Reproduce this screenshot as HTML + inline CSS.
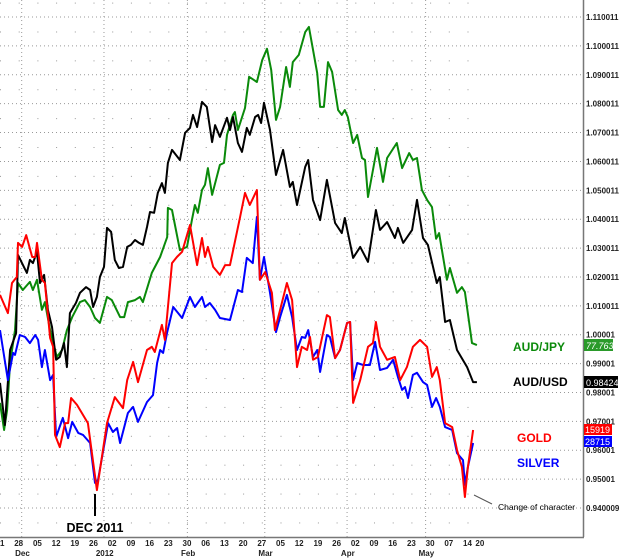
<!DOCTYPE html>
<html><head><meta charset="utf-8"><style>
html,body{margin:0;padding:0;background:#fff;}
svg{display:block;font-family:"Liberation Sans",Arial,sans-serif;}
</style></head><body>
<svg id="chart" width="620" height="558" viewBox="0 0 620 558" xmlns="http://www.w3.org/2000/svg">
<rect x="0" y="0" width="620" height="558" fill="#fff"/>
<g id="grid"></g>
<g id="series"></g>
<line x1="583.5" y1="0" x2="583.5" y2="537" stroke="#777" stroke-width="1.5"/>
<line x1="0" y1="537.5" x2="584" y2="537.5" stroke="#777" stroke-width="1.5"/>
<g id="yaxis"></g>
<g id="xaxis"></g>
<g>
<line x1="95" y1="494" x2="95" y2="516" stroke="#000" stroke-width="2"/>
<text x="95" y="532" font-size="12.5" font-weight="bold" text-anchor="middle" fill="#000">DEC 2011</text>
<line x1="474" y1="495" x2="492" y2="504" stroke="#555" stroke-width="1"/>
<text x="498" y="510" font-size="8.5" fill="#000">Change of character</text>
<text x="513" y="351" font-size="12" font-weight="bold" fill="#0a8a0a">AUD/JPY</text>
<text x="513" y="386" font-size="12" font-weight="bold" fill="#000">AUD/USD</text>
<text x="517" y="442" font-size="12" font-weight="bold" fill="#f00">GOLD</text>
<text x="517" y="467" font-size="12" font-weight="bold" fill="#00f">SILVER</text>
<rect x="584" y="339" width="29" height="12" fill="#2a9a2a"/>
<text x="586" y="349" font-size="9" font-style="italic" fill="#fff">77.763</text>
<rect x="584" y="376" width="34" height="12" fill="#000"/>
<text x="586" y="386" font-size="9" fill="#fff">0.98424</text>
<rect x="584" y="424" width="28" height="11" fill="#f00"/>
<text x="585" y="433" font-size="9" fill="#fff">15919</text>
<rect x="584" y="436" width="28" height="11" fill="#00f"/>
<text x="585" y="445" font-size="9" fill="#fff">28715</text>
</g>
</svg>
<script>
const audJpy = [[0,0.9764],[1.1,0.9670],[1.9,0.9739],[2.7,0.9902],[4.0,1.0016],[4.8,1.0179],[6.1,1.0155],[8.0,1.0183],[8.8,1.0155],[9.9,1.0190],[11.2,1.0086],[12.0,1.0113],[13.4,1.0016],[15.2,0.9923],[16.6,0.9947],[17.9,1.0016],[19.3,1.0061],[21.4,1.0113],[22.7,1.0120],[24.1,1.0096],[25.4,1.0058],[26.7,1.0041],[28.6,1.0131],[29.9,1.0120],[32.1,1.0061],[33.2,1.0061],[34.2,1.0113],[36.1,1.0120],[37.4,1.0131],[38.2,1.0113],[40.6,1.0214],[42.8,1.0269],[44.7,1.0338],[44.9,1.0439],[46.0,1.0432],[48.1,1.0293],[50.0,1.0304],[51.3,1.0397],[52.1,1.0449],[52.9,1.0422],[54.0,1.0501],[54.8,1.0519],[55.6,1.0577],[56.7,1.0484],[58.8,1.0588],[59.9,1.0595],[60.7,1.0692],[62.3,1.0761],[62.8,1.0771],[63.6,1.0709],[65.5,1.0785],[66.6,1.0893],[68.7,1.0875],[70.1,1.0951],[71.4,1.0990],[72.5,1.0917],[73.8,1.0744],[74.9,1.0789],[76.5,1.0927],[77.5,1.0858],[78.3,1.0944],[79.9,1.0969],[81.6,1.1048],[82.6,1.1066],[84.8,1.0906],[85.6,1.0789],[86.6,1.0789],[87.7,1.0944],[88.8,1.0910],[90.4,1.0778],[91.4,1.0761],[92.2,1.0778],[93.0,1.0754],[94.4,1.0664],[95.5,1.0692],[96.8,1.0612],[97.6,1.0605],[98.4,1.0477],[100.8,1.0647],[102.4,1.0529],[103.5,1.0612],[106.1,1.0664],[107.5,1.0577],[109.4,1.0629],[110.4,1.0605],[111.5,1.0612],[112.8,1.0501],[114.2,1.0467],[115.5,1.0442],[116.6,1.0332],[117.4,1.0352],[119.5,1.0190],[120.3,1.0231],[122.2,1.0145],[123.5,1.0165],[124.3,1.0148],[126.2,0.9971],[127.5,0.9964]];
const audUsd = [[0,0.9833],[1.3,0.9687],[2.7,0.9947],[4.3,1.0006],[4.8,1.0276],[6.4,1.0235],[7.2,1.0214],[8.0,1.0259],[8.8,1.0248],[9.9,1.0287],[10.7,1.0179],[11.8,1.0207],[12.8,1.0086],[13.9,1.0027],[15.0,0.9913],[16.0,0.9923],[17.1,0.9971],[17.9,0.9888],[18.7,1.0075],[20.3,1.0110],[21.4,1.0145],[23.0,1.0165],[24.1,1.0155],[24.9,1.0096],[25.9,1.0131],[26.7,1.0200],[27.8,1.0235],[28.6,1.0370],[29.7,1.0356],[30.7,1.0259],[31.8,1.0231],[32.9,1.0235],[34.0,1.0304],[35.0,1.0311],[36.1,1.0328],[37.2,1.0318],[38.2,1.0311],[39.3,1.0373],[40.1,1.0425],[41.2,1.0422],[42.2,1.0491],[43.3,1.0525],[44.1,1.0491],[44.9,1.0595],[46.0,1.0640],[48.1,1.0605],[49.5,1.0699],[50.8,1.0716],[51.6,1.0761],[52.7,1.0719],[54.0,1.0806],[55.3,1.0789],[56.7,1.0667],[57.5,1.0726],[58.8,1.0685],[60.7,1.0751],[61.5,1.0709],[62.3,1.0754],[63.6,1.0664],[64.7,1.0633],[66.0,1.0716],[66.8,1.0692],[68.2,1.0754],[69.0,1.0761],[69.8,1.0733],[70.6,1.0803],[72.2,1.0709],[73.8,1.0553],[75.7,1.0640],[77.5,1.0512],[78.3,1.0529],[79.4,1.0449],[81.6,1.0581],[82.4,1.0605],[83.7,1.0467],[85.6,1.0397],[87.4,1.0536],[89.6,1.0387],[91.4,1.0352],[92.2,1.0404],[94.4,1.0266],[96.3,1.0304],[98.4,1.0252],[100.5,1.0432],[101.6,1.0363],[103.5,1.0390],[105.6,1.0335],[106.4,1.0370],[107.8,1.0318],[110.2,1.0363],[111.5,1.0467],[113.1,1.0335],[114.4,1.0311],[116.8,1.0179],[117.6,1.0200],[119.0,1.0044],[120.3,1.0051],[122.2,0.9947],[124.9,0.9888],[126.5,0.9836],[127.5,0.9836]];
const gold = [[0,1.0138],[2.1,1.0075],[3.2,1.0179],[4.5,1.0200],[4.8,1.0318],[5.9,1.0304],[7.0,1.0345],[8.6,1.0269],[9.4,1.0269],[9.9,1.0318],[11.2,1.0190],[12.0,1.0179],[13.4,0.9989],[14.2,0.9958],[14.7,0.9653],[16.0,0.9611],[17.4,0.9694],[18.2,0.9694],[19.0,0.9781],[20.6,0.9757],[23.5,0.9694],[25.9,0.9462],[28.6,0.9694],[30.7,0.9784],[32.9,0.9746],[34.0,0.9843],[35.6,0.9906],[36.9,0.9836],[39.3,0.9947],[40.6,0.9958],[41.4,0.9940],[43.3,1.0034],[44.1,0.9982],[46.0,1.0248],[47.3,1.0269],[48.7,1.0287],[50.8,1.0380],[52.7,1.0241],[54.0,1.0335],[54.8,1.0269],[55.6,1.0304],[57.0,1.0235],[58.8,1.0207],[60.2,1.0241],[61.5,1.0241],[64.2,1.0408],[65.5,1.0491],[66.8,1.0449],[68.7,1.0501],[69.5,1.0190],[70.9,1.0217],[72.7,1.0145],[73.5,1.0016],[74.9,1.0086],[76.7,1.0179],[78.1,1.0120],[79.4,0.9888],[80.7,0.9958],[82.1,0.9947],[82.9,0.9992],[83.7,0.9913],[85.0,0.9923],[87.4,1.0068],[88.2,1.0061],[89.6,0.9919],[90.9,0.9947],[92.8,1.0041],[93.6,1.0044],[94.4,0.9764],[96.3,0.9843],[98.4,0.9958],[99.7,0.9971],[100.5,1.0044],[101.6,0.9958],[103.5,0.9913],[105.6,0.9923],[107.0,0.9843],[108.8,0.9888],[110.4,0.9958],[112.3,0.9982],[114.2,0.9958],[115.5,0.9854],[116.8,0.9888],[117.6,0.9843],[119.0,0.9694],[120.9,0.9680],[122.2,0.9601],[123.5,0.9542],[124.3,0.9438],[125.1,0.9542],[126.5,0.9670]];
const silver = [[0,1.0016],[2.1,0.9843],[3.5,0.9937],[4.0,0.9930],[5.3,0.9999],[6.7,0.9992],[8.0,0.9971],[9.4,0.9999],[10.2,0.9982],[11.2,0.9888],[12.0,0.9947],[13.4,0.9843],[14.2,0.9861],[15.0,0.9646],[16.8,0.9712],[18.2,0.9642],[19.3,0.9698],[20.9,0.9660],[22.2,0.9653],[24.1,0.9625],[25.4,0.9487],[26.2,0.9497],[28.9,0.9694],[30.2,0.9663],[31.3,0.9677],[32.1,0.9625],[34.2,0.9729],[35.6,0.9750],[36.9,0.9698],[39.3,0.9767],[40.9,0.9791],[42.0,0.9902],[42.8,0.9947],[43.6,0.9937],[44.7,1.0009],[46.3,1.0096],[48.7,1.0058],[50.8,1.0131],[52.1,1.0096],[54.0,1.0131],[54.8,1.0096],[56.1,1.0110],[57.5,1.0086],[58.8,1.0058],[61.5,1.0051],[63.6,1.0155],[64.7,1.0148],[66.0,1.0266],[67.6,1.0248],[68.7,1.0408],[69.5,1.0190],[70.6,1.0269],[72.2,1.0145],[73.8,1.0009],[74.9,1.0061],[76.7,1.0138],[78.1,1.0061],[79.4,0.9947],[80.7,0.9992],[81.6,0.9989],[82.4,1.0016],[83.7,0.9923],[84.8,0.9947],[85.6,0.9871],[87.4,0.9999],[88.2,0.9992],[89.6,0.9919],[90.9,0.9947],[92.8,1.0041],[93.6,1.0044],[94.4,0.9843],[95.5,0.9902],[97.1,0.9895],[98.9,0.9895],[100.3,0.9975],[101.6,0.9878],[103.5,0.9885],[105.1,0.9913],[106.4,0.9854],[107.5,0.9809],[108.3,0.9819],[109.1,0.9781],[110.4,0.9861],[111.5,0.9868],[113.1,0.9836],[114.2,0.9826],[115.5,0.9750],[116.6,0.9781],[117.6,0.9750],[119.0,0.9680],[120.9,0.9670],[122.2,0.9590],[123.8,0.9566],[124.3,0.9480],[125.1,0.9542],[126.5,0.9625]];
const yTickValues = [1.11,1.10,1.09,1.08,1.07,1.06,1.05,1.04,1.03,1.02,1.01,1.00,0.99,0.98,0.97,0.96,0.95,0.94];
const yTickLabels = ["1.110011","1.100011","1.090011","1.080011","1.070011","1.060011","1.050011","1.040011","1.030011","1.020011","1.010011","1.00001","0.99001","0.98001","0.97001","0.96001","0.95001","0.940009"];
const weekDays = [0,5,10,15,20,25,30,35,40,45,50,55,60,65,70,75,80,85,90,95,100,105,110,115,120,125,128.3];
const weekLabels = ["21","28","05","12","19","26","02","09","16","23","30","06","13","20","27","05","12","19","26","02","09","16","23","30","07","14","20"];
const monthDays = [6,28,50.3,71,93,114];
const monthLabels = ["Dec","2012","Feb","Mar","Apr","May"];

const NS = "http://www.w3.org/2000/svg";
const PX_PER_DAY = 3.74, X0 = 0;
function xScale(d){ return X0 + d * PX_PER_DAY; }
function yScale(v){ return 508 - (v - 0.94) * 2888; }
function mk(tag, attrs, parent){ const e = document.createElementNS(NS, tag); for (const k in attrs) e.setAttribute(k, attrs[k]); parent.appendChild(e); return e; }

const grid = document.getElementById('grid');
yTickValues.forEach(function(v){
  const l = mk('line', {x1:0, x2:583, y1:yScale(v), y2:yScale(v), stroke:'#999', 'stroke-width':1, 'stroke-dasharray':'1 3'}, grid);
  
  
});
yTickValues.concat([0.93]).forEach(function(v){
  weekDays.slice(0, weekDays.length - 1).forEach(function(d){
    const c = mk('rect', {x:xScale(d), y:yScale(v + 0.005), width:1, height:1, fill:'#999'}, grid);
    
    
  });
});
monthDays.forEach(function(d){
  const l = mk('line', {x1:xScale(d - 0.2), x2:xScale(d - 0.2), y1:0, y2:537, stroke:'#999', 'stroke-width':1, 'stroke-dasharray':'1 3'}, grid);
  
  
});

const yaxis = document.getElementById('yaxis');
yTickValues.forEach(function(v, i){
  const t = mk('text', {x:586, y:yScale(v) + 3, 'font-size':8, 'font-weight':'bold', fill:'#222'}, yaxis);
  t.textContent = yTickLabels[i];
  
  
});

const xaxis = document.getElementById('xaxis');
weekDays.forEach(function(d, i){
  const t = mk('text', {x:xScale(d), y:546, 'font-size':8, 'font-weight':'bold', 'text-anchor':'middle', fill:'#222'}, xaxis);
  t.textContent = weekLabels[i];
  
  
});
monthDays.forEach(function(d, i){
  const t = mk('text', {x:xScale(d), y:556, 'font-size':8, 'font-weight':'bold', 'text-anchor':'middle', fill:'#222'}, xaxis);
  t.textContent = monthLabels[i];
  
  
});

const series = document.getElementById('series');
function drawLine(data, color, name){
  const pts = data.map(function(p){ return xScale(p[0]).toFixed(1) + ',' + yScale(p[1]).toFixed(1); }).join(' ');
  const pl = mk('polyline', {points:pts, fill:'none', stroke:color, 'stroke-width':2, 'stroke-linejoin':'round'}, series);
  
  
}
drawLine(audJpy, '#0a8a0a', 'audjpy-line');
drawLine(audUsd, '#000000', 'audusd-line');
drawLine(silver, '#0000ff', 'silver-line');
drawLine(gold, '#ff0000', 'gold-line');
</script>
</body></html>
